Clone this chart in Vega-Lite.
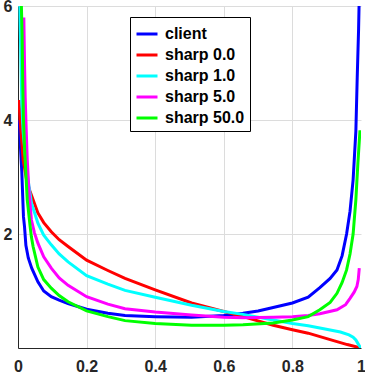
{
  "$schema": "https://vega.github.io/schema/vega-lite/v6.json",
  "width": 343,
  "height": 342,
  "autosize": {"type": "none"},
  "padding": {"left": 18, "top": 6, "right": 4, "bottom": 27},
  "config": {"view": {"stroke": null}, "font": "Liberation Sans"},
  "datasets": {
    "curves": [
      {"s":"client","x":0.004,"y":4.0},{"s":"client","x":0.007,"y":3.55},{"s":"client","x":0.011,"y":3.1},{"s":"client","x":0.016,"y":2.3},{"s":"client","x":0.019,"y":2.13},{"s":"client","x":0.023,"y":1.8},{"s":"client","x":0.03,"y":1.58},{"s":"client","x":0.04,"y":1.4},{"s":"client","x":0.058,"y":1.16},{"s":"client","x":0.075,"y":1.0},{"s":"client","x":0.097,"y":0.9},{"s":"client","x":0.12,"y":0.84},{"s":"client","x":0.146,"y":0.78},{"s":"client","x":0.2,"y":0.68},{"s":"client","x":0.262,"y":0.61},{"s":"client","x":0.312,"y":0.57},{"s":"client","x":0.4,"y":0.55},{"s":"client","x":0.506,"y":0.54},{"s":"client","x":0.6,"y":0.57},{"s":"client","x":0.656,"y":0.61},{"s":"client","x":0.7,"y":0.65},{"s":"client","x":0.744,"y":0.71},{"s":"client","x":0.8,"y":0.79},{"s":"client","x":0.846,"y":0.89},{"s":"client","x":0.88,"y":1.06},{"s":"client","x":0.91,"y":1.22},{"s":"client","x":0.93,"y":1.37},{"s":"client","x":0.945,"y":1.62},{"s":"client","x":0.958,"y":2.0},{"s":"client","x":0.968,"y":2.4},{"s":"client","x":0.977,"y":2.95},{"s":"client","x":0.985,"y":3.8},{"s":"client","x":0.989,"y":4.75},{"s":"client","x":0.993,"y":5.6},{"s":"client","x":0.996,"y":6.5},{"s":"client","x":0.998,"y":7.5},
      {"s":"sharp 0.0","x":0.003,"y":4.35},{"s":"sharp 0.0","x":0.006,"y":4.0},{"s":"sharp 0.0","x":0.01,"y":3.7},{"s":"sharp 0.0","x":0.015,"y":3.3},{"s":"sharp 0.0","x":0.025,"y":2.95},{"s":"sharp 0.0","x":0.035,"y":2.75},{"s":"sharp 0.0","x":0.044,"y":2.6},{"s":"sharp 0.0","x":0.058,"y":2.37},{"s":"sharp 0.0","x":0.075,"y":2.2},{"s":"sharp 0.0","x":0.097,"y":2.04},{"s":"sharp 0.0","x":0.12,"y":1.9},{"s":"sharp 0.0","x":0.146,"y":1.78},{"s":"sharp 0.0","x":0.2,"y":1.54},{"s":"sharp 0.0","x":0.262,"y":1.36},{"s":"sharp 0.0","x":0.312,"y":1.22},{"s":"sharp 0.0","x":0.4,"y":1.02},{"s":"sharp 0.0","x":0.506,"y":0.79},{"s":"sharp 0.0","x":0.6,"y":0.64},{"s":"sharp 0.0","x":0.656,"y":0.55},{"s":"sharp 0.0","x":0.744,"y":0.4},{"s":"sharp 0.0","x":0.8,"y":0.32},{"s":"sharp 0.0","x":0.846,"y":0.26},{"s":"sharp 0.0","x":0.92,"y":0.13},{"s":"sharp 0.0","x":0.96,"y":0.06},{"s":"sharp 0.0","x":1.0,"y":0.0},
      {"s":"sharp 1.0","x":0.004,"y":6.6},{"s":"sharp 1.0","x":0.006,"y":5.8},{"s":"sharp 1.0","x":0.008,"y":5.2},{"s":"sharp 1.0","x":0.011,"y":4.3},{"s":"sharp 1.0","x":0.015,"y":3.8},{"s":"sharp 1.0","x":0.02,"y":3.45},{"s":"sharp 1.0","x":0.027,"y":3.05},{"s":"sharp 1.0","x":0.039,"y":2.55},{"s":"sharp 1.0","x":0.058,"y":2.19},{"s":"sharp 1.0","x":0.075,"y":1.98},{"s":"sharp 1.0","x":0.097,"y":1.81},{"s":"sharp 1.0","x":0.12,"y":1.65},{"s":"sharp 1.0","x":0.146,"y":1.51},{"s":"sharp 1.0","x":0.2,"y":1.27},{"s":"sharp 1.0","x":0.262,"y":1.12},{"s":"sharp 1.0","x":0.312,"y":1.01},{"s":"sharp 1.0","x":0.4,"y":0.89},{"s":"sharp 1.0","x":0.506,"y":0.75},{"s":"sharp 1.0","x":0.6,"y":0.64},{"s":"sharp 1.0","x":0.656,"y":0.59},{"s":"sharp 1.0","x":0.744,"y":0.49},{"s":"sharp 1.0","x":0.8,"y":0.43},{"s":"sharp 1.0","x":0.846,"y":0.39},{"s":"sharp 1.0","x":0.88,"y":0.35},{"s":"sharp 1.0","x":0.94,"y":0.28},{"s":"sharp 1.0","x":0.965,"y":0.23},{"s":"sharp 1.0","x":0.977,"y":0.19},{"s":"sharp 1.0","x":0.985,"y":0.14},{"s":"sharp 1.0","x":0.99,"y":0.09},{"s":"sharp 1.0","x":0.995,"y":0.04},{"s":"sharp 1.0","x":1.0,"y":0.0},
      {"s":"sharp 5.0","x":0.017,"y":5.8},{"s":"sharp 5.0","x":0.019,"y":5.0},{"s":"sharp 5.0","x":0.021,"y":4.4},{"s":"sharp 5.0","x":0.023,"y":4.0},{"s":"sharp 5.0","x":0.027,"y":3.3},{"s":"sharp 5.0","x":0.032,"y":2.75},{"s":"sharp 5.0","x":0.039,"y":2.25},{"s":"sharp 5.0","x":0.048,"y":2.02},{"s":"sharp 5.0","x":0.058,"y":1.84},{"s":"sharp 5.0","x":0.075,"y":1.6},{"s":"sharp 5.0","x":0.097,"y":1.4},{"s":"sharp 5.0","x":0.12,"y":1.23},{"s":"sharp 5.0","x":0.146,"y":1.1},{"s":"sharp 5.0","x":0.2,"y":0.9},{"s":"sharp 5.0","x":0.262,"y":0.77},{"s":"sharp 5.0","x":0.312,"y":0.69},{"s":"sharp 5.0","x":0.4,"y":0.63},{"s":"sharp 5.0","x":0.506,"y":0.58},{"s":"sharp 5.0","x":0.6,"y":0.54},{"s":"sharp 5.0","x":0.656,"y":0.53},{"s":"sharp 5.0","x":0.744,"y":0.54},{"s":"sharp 5.0","x":0.8,"y":0.55},{"s":"sharp 5.0","x":0.846,"y":0.57},{"s":"sharp 5.0","x":0.88,"y":0.6},{"s":"sharp 5.0","x":0.93,"y":0.67},{"s":"sharp 5.0","x":0.955,"y":0.76},{"s":"sharp 5.0","x":0.968,"y":0.87},{"s":"sharp 5.0","x":0.98,"y":0.98},{"s":"sharp 5.0","x":0.988,"y":1.08},{"s":"sharp 5.0","x":0.992,"y":1.2},{"s":"sharp 5.0","x":0.995,"y":1.4},
      {"s":"sharp 50.0","x":0.008,"y":6.6},{"s":"sharp 50.0","x":0.009,"y":6.2},{"s":"sharp 50.0","x":0.012,"y":5.5},{"s":"sharp 50.0","x":0.014,"y":4.6},{"s":"sharp 50.0","x":0.016,"y":4.0},{"s":"sharp 50.0","x":0.02,"y":3.4},{"s":"sharp 50.0","x":0.027,"y":2.6},{"s":"sharp 50.0","x":0.035,"y":2.15},{"s":"sharp 50.0","x":0.039,"y":1.95},{"s":"sharp 50.0","x":0.044,"y":1.78},{"s":"sharp 50.0","x":0.058,"y":1.42},{"s":"sharp 50.0","x":0.075,"y":1.2},{"s":"sharp 50.0","x":0.097,"y":1.05},{"s":"sharp 50.0","x":0.12,"y":0.92},{"s":"sharp 50.0","x":0.146,"y":0.81},{"s":"sharp 50.0","x":0.2,"y":0.65},{"s":"sharp 50.0","x":0.262,"y":0.55},{"s":"sharp 50.0","x":0.312,"y":0.48},{"s":"sharp 50.0","x":0.4,"y":0.43},{"s":"sharp 50.0","x":0.506,"y":0.4},{"s":"sharp 50.0","x":0.6,"y":0.4},{"s":"sharp 50.0","x":0.656,"y":0.41},{"s":"sharp 50.0","x":0.744,"y":0.44},{"s":"sharp 50.0","x":0.8,"y":0.49},{"s":"sharp 50.0","x":0.846,"y":0.55},{"s":"sharp 50.0","x":0.88,"y":0.67},{"s":"sharp 50.0","x":0.91,"y":0.8},{"s":"sharp 50.0","x":0.93,"y":0.96},{"s":"sharp 50.0","x":0.945,"y":1.15},{"s":"sharp 50.0","x":0.958,"y":1.37},{"s":"sharp 50.0","x":0.968,"y":1.65},{"s":"sharp 50.0","x":0.977,"y":2.0},{"s":"sharp 50.0","x":0.985,"y":2.6},{"s":"sharp 50.0","x":0.991,"y":3.25},{"s":"sharp 50.0","x":0.997,"y":3.82}
    ]
  },
  "data": {"name": "curves"},
  "mark": {"type": "line", "strokeWidth": 3, "clip": true},
  "encoding": {
    "x": {
      "field": "x", "type": "quantitative",
      "scale": {"domain": [0, 1], "nice": false, "zero": false},
      "axis": {
        "values": [0, 0.2, 0.4, 0.6, 0.8, 1], "format": "~g", "title": null,
        "grid": true,
        "gridColor": {"condition": {"test": "datum.value == 1", "value": "transparent"}, "value": "#dcdcdc"},
        "domainColor": "#262626", "ticks": false, "tickSize": 0,
        "labelFontSize": 16, "labelFontWeight": "bold", "labelColor": "#262626",
        "labelPadding": 10, "labelFlush": false, "labelOverlap": false
      }
    },
    "y": {
      "field": "y", "type": "quantitative",
      "scale": {"domain": [0, 6], "nice": false},
      "axis": {
        "values": [2, 4, 6], "title": null,
        "grid": true, "gridColor": "#dcdcdc",
        "domainColor": "#262626", "ticks": false, "tickSize": 0,
        "labelFontSize": 16, "labelFontWeight": "bold", "labelColor": "#262626",
        "labelPadding": 6, "labelFlush": false, "labelOverlap": false
      }
    },
    "color": {
      "field": "s", "type": "nominal",
      "scale": {
        "domain": ["client", "sharp 0.0", "sharp 1.0", "sharp 5.0", "sharp 50.0"],
        "range": ["#0000ff", "#ff0000", "#00ffff", "#ff00ff", "#00ff00"]
      },
      "legend": {
        "orient": "none", "legendX": 112, "legendY": 11, "title": null,
        "fillColor": "white", "strokeColor": "black", "padding": 5,
        "symbolType": "stroke", "symbolSize": 441, "symbolStrokeWidth": 3,
        "labelFontSize": 16, "labelFontWeight": "bold", "labelColor": "black",
        "labelOffset": 6, "rowPadding": 1, "labelLimit": 200
      }
    }
  }
}
